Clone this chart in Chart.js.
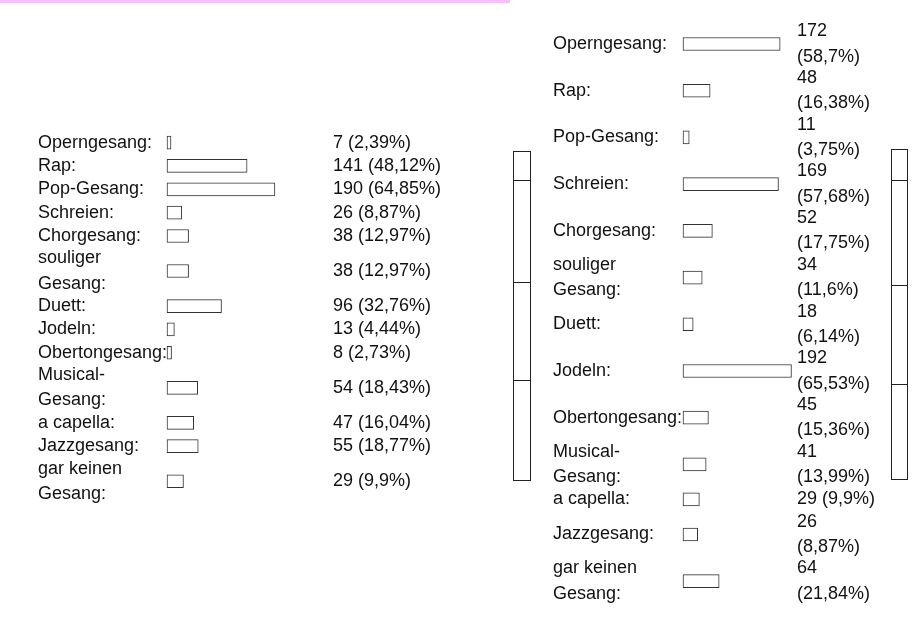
<!DOCTYPE html>
<html><head><meta charset="utf-8">
<script src="https://cdn.jsdelivr.net/npm/chart.js@4.4.1/dist/chart.umd.min.js"></script>
<style>
html,body{margin:0;padding:0;background:#fff;}
body{width:917px;height:636px;overflow:hidden;position:relative;}
#pink{position:absolute;left:0;top:0;width:510px;height:3px;background:#ffbbff;}
canvas{position:absolute;}
.strip{position:absolute;border:1.5px solid #222;box-sizing:border-box;}
.strip div{position:absolute;left:0;right:0;height:0;border-top:1.5px solid #222;}
</style></head><body>
<div id="pink"></div>
<canvas id="c1" width="470" height="540" style="left:0;top:60px"></canvas>
<canvas id="c2" width="377" height="740" style="left:540px;top:-60px"></canvas>
<div class="strip" style="left:513px;top:151px;width:18px;height:330px"><div style="top:28px"></div><div style="top:130px"></div><div style="top:228px"></div></div>
<div class="strip" style="left:891px;top:149px;width:17px;height:331px"><div style="top:30px"></div><div style="top:135px"></div><div style="top:234px"></div></div>
<script>
// ---- data ----
const categories = ['Operngesang:', 'Rap:', 'Pop-Gesang:', 'Schreien:', 'Chorgesang:', 'souliger Gesang:', 'Duett:', 'Jodeln:', 'Obertongesang:', 'Musical-Gesang:', 'a capella:', 'Jazzgesang:', 'gar keinen Gesang:'];
const countsLeft = [7, 141, 190, 26, 38, 38, 96, 13, 8, 54, 47, 55, 29];
const pctLeft = ['2,39%', '48,12%', '64,85%', '8,87%', '12,97%', '12,97%', '32,76%', '4,44%', '2,73%', '18,43%', '16,04%', '18,77%', '9,9%'];
const countsRight = [172, 48, 11, 169, 52, 34, 18, 192, 45, 41, 29, 26, 64];
const pctRight = ['58,7%', '16,38%', '3,75%', '57,68%', '17,75%', '11,6%', '6,14%', '65,53%', '15,36%', '13,99%', '9,9%', '8,87%', '21,84%'];

// ---- layout ----
const LINE = 25.3;
const FAMILY = "'Liberation Sans', Arial, Helvetica, sans-serif";
const FONT = {family: FAMILY, size: 18, lineHeight: LINE / 18};
const TEXT = '#111';
const mctx = document.createElement('canvas').getContext('2d');
mctx.font = '18px ' + FAMILY;

function wrap(text, maxW) {
  const parts = text.match(/[^ \-]+-?|-| +/g) || [text];
  const lines = [];
  let cur = '';
  for (const p of parts) {
    const test = cur + p;
    if (cur.trim() && mctx.measureText(test.trimEnd()).width > maxW) {
      lines.push(cur.trimEnd());
      cur = p.trimStart();
    } else {
      cur = test;
    }
  }
  if (cur.trim()) lines.push(cur.trimEnd());
  return lines;
}

function panel(canvas, counts, pcts, cfg) {
  const labels = categories.map(c => wrap(c, 120));
  const values = counts.map((v, i) => wrap(v + ' (' + pcts[i] + ')', cfg.valueWrap));
  const centers = [];
  let acc = 0;
  labels.forEach((l, i) => {
    const n = Math.max(l.length, values[i].length);
    centers.push(acc + n / 2);
    acc += n;
  });
  const total = acc;
  const plotW = canvas.width - cfg.padLeft - cfg.labelW - cfg.valueW;
  const xMax = plotW / cfg.pxPerUnit;
  const padBottom = canvas.height - cfg.padTop - total * LINE;
  const setTicks = s => { s.ticks = centers.map(v => ({value: v})); };
  const common = {
    type: 'linear', reverse: true, min: 0, max: total,
    grid: {display: false, drawTicks: false}, border: {display: false},
    afterBuildTicks: setTicks
  };
  return new Chart(canvas, {
    type: 'bar',
    data: {
      datasets: [{
        data: counts.map((v, i) => ({x: v, y: centers[i]})),
        xAxisID: 'x', yAxisID: 'y',
        backgroundColor: '#ffffff', borderColor: '#333333', borderWidth: 1,
        borderSkipped: false, barThickness: 13, clip: false
      }]
    },
    options: {
      indexAxis: 'y', responsive: false, animation: false, events: [],
      layout: {autoPadding: false, padding: {left: cfg.padLeft, right: 0, top: cfg.padTop, bottom: padBottom}},
      plugins: {legend: {display: false}, tooltip: {enabled: false}},
      scales: {
        x: {type: 'linear', display: false, min: 0, max: xMax},
        y: Object.assign({}, common, {
          position: 'left',
          afterFit: s => { s.width = cfg.labelW; s.paddingTop = 0; s.paddingBottom = 0; },
          ticks: {autoSkip: false, crossAlign: 'far', padding: 0, color: TEXT, font: FONT,
                  callback: (v, i) => labels[i]}
        }),
        yv: Object.assign({}, common, {
          position: 'right',
          afterFit: s => { s.width = cfg.valueW; s.paddingTop = 0; s.paddingBottom = 0; },
          ticks: {autoSkip: false, crossAlign: 'near', padding: cfg.valuePad, color: TEXT, font: FONT,
                  callback: (v, i) => values[i]}
        })
      }
    }
  });
}

panel(document.getElementById('c1'), countsLeft, pctLeft, {
  valueWrap: 200, padLeft: 38, labelW: 129, valueW: 145, valuePad: 8,
  pxPerUnit: 0.568, padTop: 115.35 - 60
});
panel(document.getElementById('c2'), countsRight, pctRight, {
  valueWrap: 82, padLeft: 13, labelW: 130, valueW: 122, valuePad: 2,
  pxPerUnit: 0.565, padTop: -3.65 + 60
});
</script>
</body></html>
